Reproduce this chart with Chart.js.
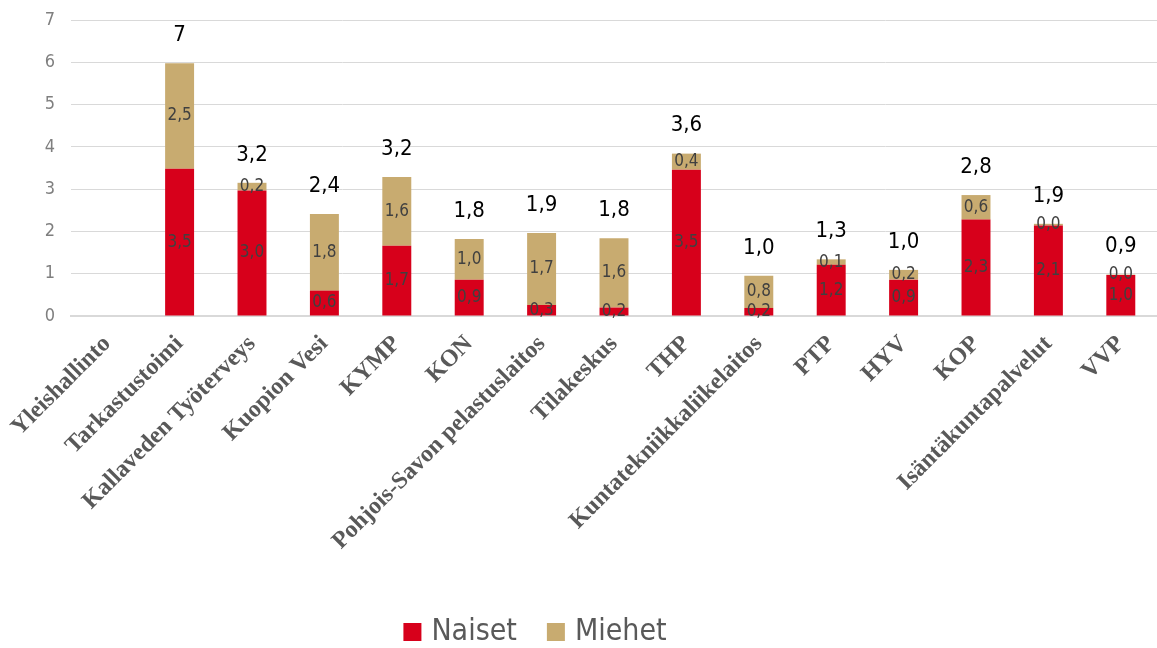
<!DOCTYPE html>
<html>
<head>
<meta charset="utf-8">
<script src="https://cdn.jsdelivr.net/npm/chart.js@4.4.0/dist/chart.umd.min.js"></script>
<style>
  body { margin: 0; background: #fff; }
  #wrap { width: 1157px; height: 648px; position: relative; }
</style>
</head>
<body>
<div id="wrap"><canvas id="chart"></canvas></div>
<script>
// data
const categories = ["Yleishallinto", "Tarkastustoimi", "Kallaveden Työterveys", "Kuopion Vesi", "KYMP", "KON",
    "Pohjois-Savon pelastuslaitos", "Tilakeskus", "THP", "Kuntatekniikkaliikelaitos", "PTP", "HYV", "KOP",
    "Isäntäkuntapalvelut", "VVP"];
const naiset = [null, 3.48, 2.97, 0.6, 1.66, 0.86, 0.26, 0.2, 3.46, 0.19, 1.21, 0.86, 2.28, 2.14, 0.97];
const miehet = [null, 2.5, 0.18, 1.81, 1.63, 0.96, 1.7, 1.64, 0.38, 0.76, 0.13, 0.23, 0.58, 0.04, 0.01];
const totalLabels = ["", "7", "3,2", "2,4", "3,2", "1,8", "1,9", "1,8", "3,6", "1,0", "1,3", "1,0", "2,8", "1,9", "0,9"];
const yMax = 7;

const narrow = "'Liberation Sans Narrow', 'DejaVu Sans Condensed', sans-serif";

function fmt(v) {
    return v.toFixed(1).replace(".", ",");
}

// values in the middle of each segment + totals above the bars
const barLabels = {
    id: "barLabels",
    afterDatasetsDraw(chart) {
        const ctx = chart.ctx;
        ctx.save();
        ctx.textAlign = "center";
        ctx.textBaseline = "middle";
        ctx.font = "17px " + narrow;
        ctx.fillStyle = "#404040";
        chart.data.datasets.forEach((ds, i) => {
            chart.getDatasetMeta(i).data.forEach((bar, j) => {
                const v = ds.data[j];
                if (v == null) return;
                ctx.fillText(fmt(v), bar.x, (bar.y + bar.base) / 2);
            });
        });
        const tops = chart.getDatasetMeta(1).data;
        ctx.font = "22px " + narrow;
        ctx.fillStyle = "#000";
        totalLabels.forEach((t, j) => {
            if (t) ctx.fillText(t, tops[j].x, tops[j].y - 28);
        });
        ctx.restore();
    }
};

// legend drawn by hand so it can sit a bit left of centre like the original
const bottomLegend = {
    id: "bottomLegend",
    afterDraw(chart) {
        const ctx = chart.ctx;
        const box = 18, gap = 10, itemGap = 30;
        ctx.save();
        ctx.font = "30px " + narrow;
        ctx.textBaseline = "middle";
        const items = chart.data.datasets.map(ds => ({ text: ds.label, color: ds.backgroundColor, w: ctx.measureText(ds.label).width }));
        let total = items.reduce((s, it) => s + box + gap + it.w, 0) + itemGap * (items.length - 1);
        let x = 535 - total / 2;
        const y = 632;
        items.forEach(it => {
            ctx.fillStyle = it.color;
            ctx.fillRect(x, y - box / 2, box, box);
            ctx.fillStyle = "#595959";
            ctx.fillText(it.text, x + box + gap, y);
            x += box + gap + it.w + itemGap;
        });
        ctx.restore();
    }
};

new Chart(document.getElementById("chart"), {
    type: "bar",
    data: {
        labels: categories,
        datasets: [
            { label: "Naiset", data: naiset, backgroundColor: "#d7001b", barPercentage: 0.4, categoryPercentage: 1 },
            { label: "Miehet", data: miehet, backgroundColor: "#c8ab70", barPercentage: 0.4, categoryPercentage: 1 }
        ]
    },
    options: {
        responsive: true,
        maintainAspectRatio: false,
        animation: false,
        layout: { padding: { top: 20, right: 0, left: 0, bottom: 0 } },
        plugins: {
            tooltip: { enabled: false },
            legend: { display: false }
        },
        scales: {
            x: {
                stacked: true,
                grid: { display: false },
                border: { color: "#d9d9d9", width: 2 },
                ticks: {
                    autoSkip: false,
                    maxRotation: 45,
                    minRotation: 45,
                    padding: 6,
                    color: "#595959",
                    font: { family: "'Liberation Serif', 'Times New Roman', serif", size: 24, weight: "bold" }
                },
                afterFit(scale) { scale.height = 332; scale.paddingTop = 0; }
            },
            y: {
                stacked: true,
                min: 0,
                max: yMax,
                ticks: { stepSize: 1, padding: 16, color: "#7f7f7f", font: { family: narrow, size: 18 } },
                grid: { color: "#d9d9d9", drawTicks: false },
                border: { display: false },
                afterFit(scale) { scale.width = 71; scale.paddingTop = 0; }
            }
        }
    },
    plugins: [barLabels, bottomLegend]
});
</script>
</body>
</html>
